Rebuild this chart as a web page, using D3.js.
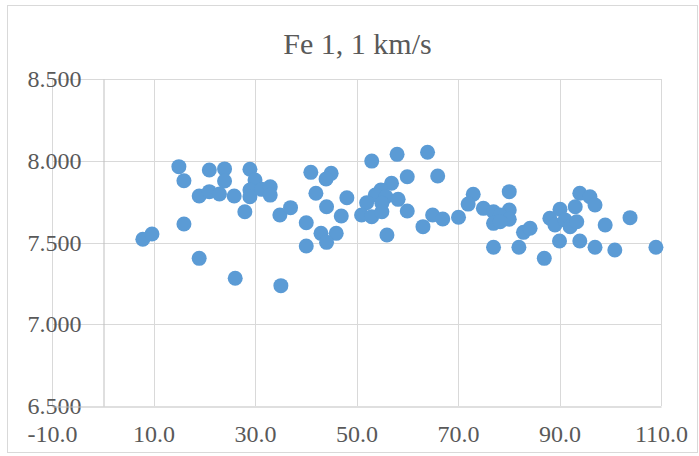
<!DOCTYPE html>
<html>
<head>
<meta charset="utf-8">
<script src="https://cdn.jsdelivr.net/npm/d3@7"></script>
<style>
  html, body { margin: 0; padding: 0; background: #fff; }
  svg { display: block; }
  text { font-family: "Liberation Serif", "DejaVu Serif", serif; fill: #595959; }
</style>
</head>
<body>
<svg id="chart" width="699" height="456"></svg>
<script>
const title = "Fe 1, 1 km/s";
const xTicks = [-10, 10, 30, 50, 70, 90, 110];
const yTicks = [6.5, 7.0, 7.5, 8.0, 8.5];
const xValues = [
  15.0, 16.0, 21.0, 24.0, 24.0, 29.0, 30.0, 19.0, 21.0, 23.0,
  25.9, 29.0, 29.0, 31.3, 33.0, 33.0, 28.0, 34.9, 37.0, 16.0,
  7.9, 9.7, 19.0, 26.1, 35.1,
  41.0, 45.0, 44.0, 42.0, 44.1, 48.1, 40.1, 47.0, 43.0, 46.0,
  44.1, 40.1, 53.0, 58.0, 64.0, 60.0, 66.0, 56.9, 54.8, 53.7,
  55.8, 58.2, 52.0, 55.0, 51.0, 53.0, 55.0, 60.0, 56.0, 63.1,
  65.0, 67.0, 70.1, 73.0, 72.0,
  75.0, 77.0, 80.1, 80.1, 78.3, 80.1, 77.0, 78.3, 82.9, 84.2,
  77.0, 82.0, 87.0, 88.1, 89.1, 90.1, 91.1, 92.1, 93.1, 93.4,
  94.0, 96.0, 97.0, 90.0, 94.0, 97.0, 99.0, 100.9, 103.9, 109.0
];
const yValues = [
  7.964, 7.878, 7.943, 7.950, 7.876, 7.948, 7.882, 7.784, 7.811, 7.797,
  7.784, 7.821, 7.780, 7.825, 7.841, 7.790, 7.688, 7.668, 7.713, 7.613,
  7.520, 7.552, 7.403, 7.281, 7.236,
  7.929, 7.923, 7.888, 7.801, 7.719, 7.774, 7.621, 7.662, 7.556, 7.556,
  7.501, 7.479, 7.998, 8.039, 8.052, 7.902, 7.907, 7.862, 7.821, 7.790,
  7.780, 7.764, 7.743, 7.740, 7.668, 7.658, 7.688, 7.693, 7.546, 7.597,
  7.668, 7.644, 7.654, 7.795, 7.735,
  7.709, 7.688, 7.811, 7.699, 7.668, 7.642, 7.617, 7.627, 7.562, 7.587,
  7.471, 7.471, 7.403, 7.648, 7.607, 7.703, 7.638, 7.597, 7.719, 7.627,
  7.801, 7.780, 7.729, 7.509, 7.509, 7.471, 7.607, 7.454, 7.652, 7.471
];

const points = xValues.map((x, i) => ({ x, y: yValues[i] }));

const svg = d3.select("#chart");

// chart area border
svg.append("rect")
  .attr("x", 7.5).attr("y", 5.5)
  .attr("width", 690).attr("height", 447)
  .attr("fill", "#fff")
  .attr("stroke", "#d9d9d9")
  .attr("stroke-width", 1);

const x = d3.scaleLinear().domain([-10, 110]).range([52, 661]);
const y = d3.scaleLinear().domain([6.5, 8.5]).range([406, 79]);

// horizontal gridlines
svg.append("g")
  .selectAll("line")
  .data(yTicks.filter(v => v !== 6.5))
  .join("line")
  .attr("x1", x(-10)).attr("x2", x(110))
  .attr("y1", d => Math.round(y(d)) + 0.5)
  .attr("y2", d => Math.round(y(d)) + 0.5)
  .attr("stroke", "#d9d9d9").attr("stroke-width", 1);

// vertical gridlines
svg.append("g")
  .selectAll("line")
  .data(xTicks)
  .join("line")
  .attr("x1", d => Math.round(x(d)) + 0.5)
  .attr("x2", d => Math.round(x(d)) + 0.5)
  .attr("y1", y(8.5)).attr("y2", y(6.5))
  .attr("stroke", "#d9d9d9").attr("stroke-width", 1);

const hyphen = f => d => f(d).replace("\u2212", "-");

// y axis at x=0
const yAxis = d3.axisLeft(y).tickValues(yTicks).tickSize(0)
  .tickFormat(hyphen(d3.format(".3f"))).tickPadding(22);
const gy = svg.append("g")
  .attr("transform", `translate(${Math.round(x(0)) + 0.5},0)`)
  .call(yAxis);
gy.select(".domain").attr("stroke", "#bfbfbf");
gy.selectAll("text")
  .style("font-size", "24px")
  .attr("fill", "#595959")
  .style("font-family", "'Liberation Serif', serif");

// x axis at y=6.5
const xAxis = d3.axisBottom(x).tickValues(xTicks).tickSize(0)
  .tickFormat(hyphen(d3.format(".1f"))).tickPadding(18);
const gx = svg.append("g")
  .attr("transform", `translate(0,${Math.round(y(6.5)) + 0.5})`)
  .call(xAxis);
gx.select(".domain").attr("stroke", "#bfbfbf");
gx.selectAll("text")
  .style("font-size", "24px")
  .attr("fill", "#595959")
  .style("font-family", "'Liberation Serif', serif");

// points
svg.append("g")
  .selectAll("circle")
  .data(points)
  .join("circle")
  .attr("cx", d => x(d.x))
  .attr("cy", d => y(d.y))
  .attr("r", 7.5)
  .attr("fill", "#5b9bd5");

// title
svg.append("text")
  .attr("x", 357.5).attr("y", 54)
  .attr("text-anchor", "middle")
  .style("font-size", "30px")
  .text(title);
</script>
</body>
</html>
